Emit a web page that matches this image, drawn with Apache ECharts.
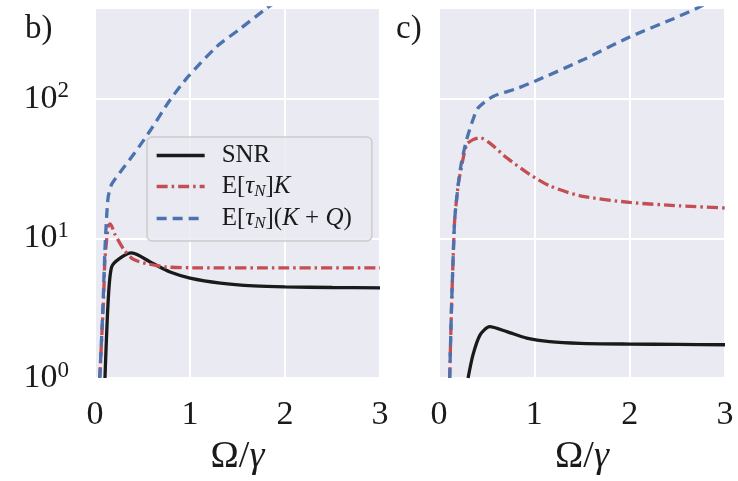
<!DOCTYPE html>
<html>
<head>
<meta charset="utf-8">
<script src="https://cdn.jsdelivr.net/npm/echarts@6/dist/echarts.min.js"></script>
<style>
  html, body { margin: 0; padding: 0; background: #fff; }
  #chart { width: 738px; height: 481px; }
</style>
</head>
<body>
<div id="chart"></div>
<script>
// panel b)
var bSnrX = [0.105, 0.14, 0.175, 0.26, 0.386, 0.61, 0.79, 1.0, 1.32, 1.67, 2.0, 2.5, 3.0]
var bSnrY = [1, 3.7, 6.24, 7.2, 7.88, 6.6, 5.74, 5.2, 4.79, 4.57, 4.49, 4.45, 4.42]
var bKX = [0.05, 0.09, 0.105, 0.14, 0.16, 0.21, 0.30, 0.40, 0.54, 0.75, 1.1, 2.0, 3.0]
var bKY = [1, 3.7, 7.1, 12.3, 12.7, 10.7, 8.4, 7.1, 6.6, 6.24, 6.15, 6.14, 6.14]
var bKQX = [0.05, 0.08, 0.105, 0.123, 0.14, 0.175, 0.26, 0.37, 0.47, 0.58, 0.79, 0.98, 1.28, 1.53, 1.81, 1.9]
var bKQY = [1, 2.82, 8.4, 14.5, 20, 24.4, 29.5, 37, 46, 59, 98, 144, 236, 318, 447, 490]

// panel c)
var cSnrX = [0.305, 0.357, 0.43, 0.53, 0.71, 0.92, 1.16, 1.48, 2.0, 2.5, 3.0]
var cSnrY = [1, 1.47, 2.03, 2.33, 2.15, 1.93, 1.82, 1.77, 1.75, 1.74, 1.73]
var cKX = [0.112, 0.13, 0.148, 0.165, 0.2, 0.217, 0.29, 0.357, 0.43, 0.53, 0.71, 0.95, 1.16, 1.48, 2.0, 2.53, 3.0]
var cKY = [1, 2.98, 7.1, 13.7, 23.8, 28, 47, 51, 52.6, 48.3, 37.8, 28.8, 23.8, 20.2, 18.1, 17.1, 16.5]
var cKQX = [0.112, 0.13, 0.148, 0.165, 0.2, 0.235, 0.29, 0.357, 0.41, 0.567, 0.81, 1.0, 1.51, 2.0, 2.46, 2.72, 3.0]
var cKQY = [1, 2.98, 7.1, 13.7, 23.8, 34.8, 51, 71, 86, 104, 118, 133, 190, 277, 375, 450, 560]

var names = ['SNR', 'E[τN]K', 'E[τN](K+Q)']
var xTicks = [0, 1, 2, 3]

var serif = 'Liberation Serif'
var ink = '#1a1a1a'
var black = '#1a1a1a', red = '#c44e52', blue = '#4c72b0'

function pairs(xs, ys) {
  return xs.map(function (x, i) { return [x, ys[i]] })
}

var legendText = {
  'SNR': '{r|SNR}',
  'E[τN]K': '{r|E[}{i|τ}{sub|N}{r|]}{i|K}',
  'E[τN](K+Q)': '{r|E[}{i|τ}{sub|N}{r|](}{i|K}{r| + }{i|Q}{r|)}'
}

function xAxis(idx) {
  return {
    type: 'value', gridIndex: idx, min: xTicks[0], max: xTicks[xTicks.length - 1], interval: 1,
    axisLine: {show: false}, axisTick: {show: false},
    splitLine: {show: true, lineStyle: {color: '#fff', width: 2}},
    axisLabel: {fontFamily: serif, fontSize: 34, color: ink, margin: 20},
    name: '{u|Ω/}{i|γ}', nameLocation: 'middle', nameGap: 60,
    nameTextStyle: {
      rich: {
        u: {fontFamily: serif, fontSize: 38, color: ink},
        i: {fontFamily: serif, fontSize: 38, fontStyle: 'italic', color: ink}
      }
    }
  }
}

function yAxis(idx, labels) {
  return {
    type: 'log', gridIndex: idx, min: 1, max: 447, logBase: 10,
    axisLine: {show: false}, axisTick: {show: false}, minorTick: {show: false},
    splitLine: {show: true, lineStyle: {color: '#fff', width: 2}},
    axisLabel: {
      show: labels, margin: 26,
      formatter: function (v) {
        var e = Math.log10(v)
        if (Math.abs(e - Math.round(e)) > 1e-6) return ''
        return '{b|10}{s|' + Math.round(e) + '}'
      },
      rich: {
        b: {fontFamily: serif, fontSize: 34, color: ink, lineHeight: 38},
        s: {fontFamily: serif, fontSize: 23, color: ink, lineHeight: 23, verticalAlign: 'top'}
      }
    }
  }
}

function lines(idx, snr, k, kq) {
  return [
    {name: names[0], type: 'line', xAxisIndex: idx, yAxisIndex: idx, data: snr, symbol: 'none',
     smooth: 0.25, lineStyle: {color: black, width: 3.3}, itemStyle: {color: black}},
    {name: names[1], type: 'line', xAxisIndex: idx, yAxisIndex: idx, data: k, symbol: 'none',
     smooth: 0.25, lineStyle: {color: red, width: 3.3, type: [11, 4, 2.5, 4]}, itemStyle: {color: red}},
    {name: names[2], type: 'line', xAxisIndex: idx, yAxisIndex: idx, data: kq, symbol: 'none',
     smooth: 0.25, lineStyle: {color: blue, width: 3.3, type: [10, 6]}, itemStyle: {color: blue}}
  ]
}

var chart = echarts.init(document.getElementById('chart'))
chart.setOption({
  animation: false,
  backgroundColor: '#fff',
  grid: [
    {left: 95, right: 358, top: 8, bottom: 101, show: true, backgroundColor: '#eaeaf2', borderWidth: 0},
    {left: 439, right: 13, top: 8, bottom: 101, show: true, backgroundColor: '#eaeaf2', borderWidth: 0}
  ],
  xAxis: [xAxis(0), xAxis(1)],
  yAxis: [yAxis(0, true), yAxis(1, false)],
  legend: {
    data: names, orient: 'vertical', left: 147, top: 137,
    itemWidth: 48, itemHeight: 14, itemGap: 6,
    padding: [6, 20, 9, 8],
    backgroundColor: 'rgba(234,234,242,0.85)', borderColor: '#cccccc', borderWidth: 1.5, borderRadius: 5,
    itemStyle: {opacity: 0},
    lineStyle: {width: 3.3},
    formatter: function (n) { return legendText[n] },
    textStyle: {
      padding: [0, 0, 0, 12],
      rich: {
        r: {fontFamily: serif, fontSize: 25, color: ink, lineHeight: 27},
        i: {fontFamily: serif, fontSize: 25, fontStyle: 'italic', color: ink, lineHeight: 27},
        sub: {fontFamily: serif, fontSize: 17, fontStyle: 'italic', color: ink, lineHeight: 16, verticalAlign: 'bottom'}
      }
    }
  },
  graphic: [
    {type: 'text', left: 25, top: 13, style: {text: 'b)', font: '33px "Liberation Serif"', fill: ink}},
    {type: 'text', left: 396, top: 13, style: {text: 'c)', font: '33px "Liberation Serif"', fill: ink}}
  ],
  series: lines(0, pairs(bSnrX, bSnrY), pairs(bKX, bKY), pairs(bKQX, bKQY))
    .concat(lines(1, pairs(cSnrX, cSnrY), pairs(cKX, cKY), pairs(cKQX, cKQY)))
})
</script>
</body>
</html>
